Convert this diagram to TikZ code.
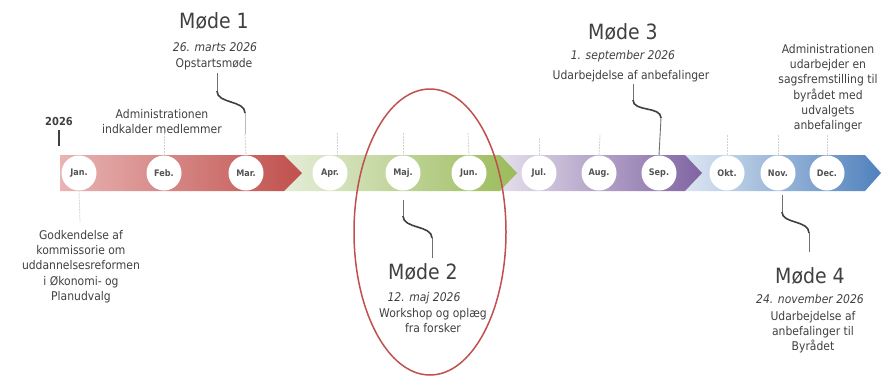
\documentclass[tikz,border=0pt]{standalone}
\usepackage{fontspec}
\setmainfont{DejaVu Sans}[FakeStretch=0.9]
\usetikzlibrary{shapes.geometric}
\definecolor{txt}{HTML}{404040}
\definecolor{redL}{HTML}{E8B5B4}
\definecolor{redD}{HTML}{C0504D}
\definecolor{grnL}{HTML}{E4EDD8}
\definecolor{grnD}{HTML}{9BBB59}
\definecolor{purL}{HTML}{E4DFEC}
\definecolor{purD}{HTML}{8064A2}
\definecolor{bluL}{HTML}{DCE6F2}
\definecolor{bluD}{HTML}{4F81BD}
\definecolor{hlred}{HTML}{C0504D}
\begin{document}
\begin{tikzpicture}[x=1pt,y=-1pt,
  mcirc/.style={circle,fill=white,minimum size=35pt,inner sep=0pt,
    font=\fontsize{9}{10}\selectfont\bfseries,text=txt!90},
  body/.style={inner sep=0pt,align=center,text=txt,font=\fontsize{12}{15.3}\selectfont,anchor=north},
  line1/.style={inner sep=0pt,text=txt,font=\fontsize{12}{15.3}\selectfont,anchor=base},
  datetxt/.style={inner sep=0pt,text=txt,font=\fontsize{12}{15.3}\selectfont\itshape,anchor=base},
  title/.style={inner sep=0pt,text=txt,font=\fontsize{21}{24}\selectfont,anchor=base},
  conn/.style={draw=txt,line width=1.6pt},
  connthin/.style={draw=txt!75,line width=0.9pt},
  tickline/.style={draw=gray!35,line width=0.8pt,dash pattern=on 2pt off 1pt},
  hl/.style={ellipse,draw=hlred,line width=1.5pt,minimum width=152pt,minimum height=286pt,inner sep=0pt}
]
\useasboundingbox (0,0) rectangle (886,376);

% band segments (back to front)
\shade[left color=bluL,right color=bluD] (685,155) -- (865,155) -- (881,173) -- (865,191) -- (685,191) -- cycle;
\shade[left color=purL,right color=purD] (500,155) -- (685,155) -- (702,173) -- (685,191) -- (500,191) -- cycle;
\shade[left color=grnL,right color=grnD] (284,155) -- (500,155) -- (517,173) -- (500,191) -- (284,191) -- cycle;
\shade[left color=redL,right color=redD] (60,155) -- (284,155) -- (302,173) -- (284,191) -- (60,191) -- cycle;

% month circles
\node[mcirc] (jan) at (79,173) {Jan.};
\node[mcirc] (feb) at (164,173) {Feb.};
\node[mcirc] (mar) at (246,173) {Mar.};
\node[mcirc] (apr) at (330,173) {Apr.};
\node[mcirc] (maj) at (403,173) {Maj.};
\node[mcirc] (jun) at (469,173) {Jun.};
\node[mcirc] (jul) at (539,173) {Jul.};
\node[mcirc] (aug) at (599,173) {Aug.};
\node[mcirc] (sep) at (659,173) {Sep.};
\node[mcirc] (okt) at (727,173) {Okt.};
\node[mcirc] (nov) at (778,173) {Nov.};
\node[mcirc] (dec) at (827,173) {Dec.};

% dotted ticks
\coordinate (tfeb) at (164,133);
\coordinate (tapr) at (337,133);
\coordinate (tmaj) at (403,133);
\coordinate (tjun) at (468,133);
\coordinate (tjul) at (539,138);
\coordinate (taug) at (600,135);
\coordinate (tokt) at (727,135);
\coordinate (tnov) at (778,135);
\coordinate (tdec) at (827,135);
\coordinate (tjan) at (80,222);
\draw[tickline] (tfeb) -- (feb.north);
\draw[tickline] (tapr) -- (tapr |- apr.north);
\draw[tickline] (tmaj) -- (maj.north);
\draw[tickline] (tjun) -- (jun.north);
\draw[tickline] (tjul) -- (jul.north);
\draw[tickline] (taug) -- (aug.north);
\draw[tickline] (tokt) -- (okt.north);
\draw[tickline] (tnov) -- (nov.north);
\draw[tickline] (tdec) -- (dec.north);
\draw[tickline] (jan.south) -- (tjan);

% year
\node[inner sep=0pt,anchor=base,text=txt,font=\fontsize{11}{13}\selectfont\bfseries] (year) at (59,125) {2026};
\coordinate (ytick) at (59,146);
\draw[draw=txt,line width=1.2pt] ([yshift=-5pt]year.south) -- (ytick);

% Møde 1
\node[title] (m1t) at (214,28) {Møde 1};
\node[datetxt] (m1d) at (215,51) {26. marts 2026};
\node[line1] (m1x) at (214,67) {Opstartsmøde};
\coordinate (c1a) at (217,73);
\coordinate (c1b) at (217,91);
\coordinate (c1c) at (245,113);
\coordinate (c1d) at (245,134);
\draw[connthin] (c1a) -- (c1b);
\draw[conn] (c1b) .. controls (217,104) and (245,100) .. (c1c);
\draw[connthin,draw=gray!55] (c1c) -- (c1d);
\draw[tickline] (c1d) -- (mar.north);

% Administrationen indkalder
\node[body] (adm1) at (162,108) {\rule{0pt}{10pt}Administrationen\\indkalder medlemmer};

% Godkendelse
\node[body] (godk) at (81,229) {\rule{0pt}{10pt}Godkendelse af\\kommissorie om\\uddannelsesreformen\\i Økonomi- og\\Planudvalg};

% Møde 2
\coordinate (c2a) at (403,200);
\coordinate (c2b) at (403,216);
\coordinate (c2c) at (432,238);
\coordinate (c2d) at (432,258);
\draw[connthin] (c2a) -- (c2b);
\draw[conn] (c2b) .. controls (403,229) and (432,225) .. (c2c);
\draw[connthin] (c2c) -- (c2d);
\node[title] (m2t) at (423,279) {Møde 2};
\node[datetxt] (m2d) at (424,301) {12. maj 2026};
\node[body] (m2x) at (433,307) {\rule{0pt}{10pt}Workshop og oplæg\\fra forsker};

% Møde 3
\node[title] (m3t) at (623,39) {Møde 3};
\node[datetxt] (m3d) at (623,59) {1. september 2026};
\node[line1] (m3x) at (631,79) {Udarbejdelse af anbefalinger};
\coordinate (c3a) at (633,84);
\coordinate (c3b) at (633,100);
\coordinate (c3c) at (661,118);
\draw[connthin] (c3a) -- (c3b);
\draw[conn] (c3b) .. controls (633,112) and (661,106) .. (c3c);
\draw[connthin] (c3c) -- (sep.north);

% Administrationen udarbejder
\node[body] (adm2) at (828,43) {\rule{0pt}{10pt}Administrationen\\udarbejder en\\sagsfremstilling til\\byrådet med\\udvalgets\\anbefalinger};

% Møde 4
\coordinate (c4a) at (782,195);
\coordinate (c4b) at (782,212);
\coordinate (c4c) at (809,233);
\coordinate (c4d) at (809,252);
\draw[connthin] (c4a) -- (c4b);
\draw[conn] (c4b) .. controls (782,224) and (809,220) .. (c4c);
\draw[connthin] (c4c) -- (c4d);
\node[title] (m4t) at (810,283) {Møde 4};
\node[datetxt] (m4d) at (810,303) {24. november 2026};
\node[body] (m4x) at (813,310) {\rule{0pt}{10pt}Udarbejdelse af\\anbefalinger til\\Byrådet};

% highlight ellipse
\node[hl] (hlell) at (430,232) {};
\end{tikzpicture}
\end{document}
